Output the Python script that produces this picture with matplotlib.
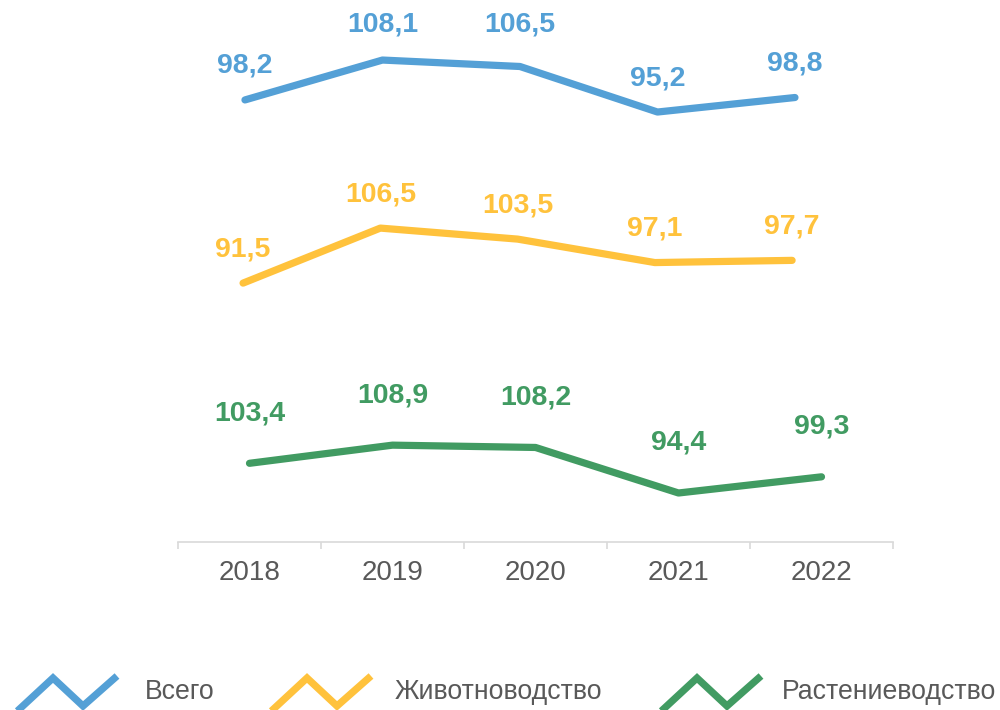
import matplotlib
matplotlib.use("Agg")
import matplotlib.pyplot as plt
from matplotlib.lines import Line2D
import numpy as np

plt.rcParams['font.family'] = ['Liberation Sans', 'DejaVu Sans']

years = ['2018', '2019', '2020', '2021', '2022']
total = [98.2, 108.1, 106.5, 95.2, 98.8]
livestock = [91.5, 106.5, 103.5, 97.1, 97.7]
crops = [103.4, 108.9, 108.2, 94.4, 99.3]
names = ['Всего', 'Животноводство', 'Растениеводство']

c_blue = '#54A0D6'
c_yellow = '#FFC23C'
c_green = '#419B62'
c_gray = '#595959'

W, H = 1000, 710
fig = plt.figure(figsize=(W / 100, H / 100), dpi=100)
rect = [178 / W, (H - 542) / H, 715 / W, 542 / H]

# each series sits in its own band, so each gets its own invisible axes
ax = fig.add_axes(rect)
ax_b = fig.add_axes(rect, frameon=False)
ax_y = fig.add_axes(rect, frameon=False)

x = np.arange(len(years))

series = [
    # axes, values, colour, xlim, ylim, label offset px
    (ax_b, total, c_blue, (-0.487, 4.713), (-11.5, 123.0), 34),
    (ax_y, livestock, c_yellow, (-0.474, 4.735), (20.9, 168.7), 34),
    (ax, crops, c_green, (-0.5, 4.5), (79.55, 243.8), 50),
]

for a, vals, col, xl, yl, off in series:
    a.plot(x, vals, color=col, lw=5.2, solid_capstyle='round',
           solid_joinstyle='round')
    a.set_xlim(*xl)
    a.set_ylim(*yl)
    if a is not ax:
        a.set_xticks([])
        a.set_yticks([])

fig.canvas.draw()

for a, vals, col, xl, yl, off in series:
    for xi, v in zip(x, vals):
        px, py = a.transData.transform((xi, v))
        ty = py + off
        if ty > H - 40:
            ty = H - 25  # labels near the top edge stay inside the chart
        fig.text(px / W, ty / H, f'{v:.1f}'.replace('.', ','),
                 color=col, fontsize=20.5, fontweight='bold',
                 ha='center', va='center')

# main axis: only the bottom line with ticks between categories
for s in ['top', 'left', 'right']:
    ax.spines[s].set_visible(False)
ax.spines['bottom'].set_color('#D9D9D9')
ax.spines['bottom'].set_linewidth(1.2)
ax.set_yticks([])
ax.set_xticks(x)
ax.set_xticklabels(years)
ax.set_xticks(np.arange(-0.5, 5, 1), minor=True)
ax.tick_params(axis='x', which='major', length=0, pad=13,
               labelsize=20, labelcolor=c_gray)
ax.tick_params(axis='x', which='minor', length=5, width=1.2,
               color='#D9D9D9')

# legend drawn by hand, zigzag icons
zig_x = np.array([12, 53, 83, 117])
zig_y = np.array([716, 678, 706, 676])
leg = [(0, c_blue, 145), (254, c_yellow, 395), (644, c_green, 782)]
for (dx, col, tx), name in zip(leg, names):
    fig.add_artist(Line2D((zig_x + dx) / W, (H - zig_y) / H, color=col,
                          lw=5.2, solid_joinstyle='miter',
                          solid_capstyle='butt',
                          transform=fig.transFigure))
    fig.text(tx / W, (H - 692) / H, name, color=c_gray, fontsize=19.2,
             ha='left', va='center')

fig.savefig('out.png', dpi=100)
